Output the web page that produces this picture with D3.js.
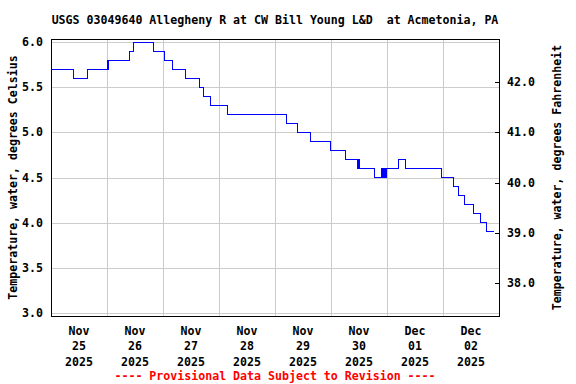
<!DOCTYPE html>
<html>
<head>
<meta charset="utf-8">
<script src="https://cdn.jsdelivr.net/npm/d3@7"></script>
<style>
  body { margin: 0; background: #fff; }
  text { font-family: "DejaVu Sans Mono", monospace; font-weight: bold; font-size: 11.6px; white-space: pre; }
</style>
</head>
<body>
<div id="chart"></div>
<script>
// Water temperature readings (change points, 15-min data), degrees Celsius
const obsTimes = [
  "2025-11-25 00:15", "2025-11-25 09:30", "2025-11-25 15:30", "2025-11-26 00:00",
  "2025-11-26 00:30", "2025-11-26 00:45", "2025-11-26 09:30", "2025-11-26 11:30",
  "2025-11-26 19:45", "2025-11-27 00:30", "2025-11-27 04:00", "2025-11-27 09:30",
  "2025-11-27 15:30", "2025-11-27 17:30", "2025-11-27 20:15", "2025-11-28 03:45",
  "2025-11-29 05:00", "2025-11-29 09:45", "2025-11-29 15:15", "2025-11-29 23:45",
  "2025-11-30 06:00", "2025-11-30 11:15", "2025-11-30 11:30", "2025-11-30 11:45",
  "2025-11-30 12:00", "2025-11-30 12:15", "2025-11-30 18:30", "2025-11-30 21:45",
  "2025-11-30 22:00", "2025-11-30 22:30", "2025-11-30 22:45", "2025-11-30 23:15",
  "2025-11-30 23:30", "2025-11-30 23:45", "2025-12-01 04:45", "2025-12-01 07:45",
  "2025-12-01 23:30", "2025-12-02 04:30", "2025-12-02 06:45", "2025-12-02 09:00",
  "2025-12-02 13:15", "2025-12-02 16:15", "2025-12-02 18:45", "2025-12-02 21:45"
];
const tempC = [
  5.7, 5.6, 5.7, 5.8,
  5.7, 5.8, 5.9, 6.0,
  5.9, 5.8, 5.7, 5.6,
  5.5, 5.4, 5.3, 5.2,
  5.1, 5.0, 4.9, 4.8,
  4.7, 4.6, 4.7, 4.6,
  4.7, 4.6, 4.5, 4.6,
  4.5, 4.6, 4.5, 4.6,
  4.5, 4.6, 4.7, 4.6,
  4.5, 4.4, 4.3, 4.2,
  4.1, 4.0, 3.9, 3.9
];

// Axis ticks and labels
const celsiusTicks = [3.0, 3.5, 4.0, 4.5, 5.0, 5.5, 6.0];
const fahrenheitTicks = [38, 39, 40, 41, 42];
const dayTicks = ["2025-11-25", "2025-11-26", "2025-11-27", "2025-11-28",
                  "2025-11-29", "2025-11-30", "2025-12-01", "2025-12-02"];

const title = "USGS 03049640 Allegheny R at CW Bill Young L&D  at Acmetonia, PA";
const leftTitle = "Temperature, water, degrees Celsius";
const rightTitle = "Temperature, water, degrees Fahrenheit";
const footer = "---- Provisional Data Subject to Revision ----";

const width = 576, height = 384;
const frame = { left: 51, right: 499, top: 39, bottom: 316 };

const parseTime = d3.timeParse("%Y-%m-%d %H:%M");
const parseDay = d3.timeParse("%Y-%m-%d");
const data = obsTimes.map((t, i) => ({ t: parseTime(t), v: tempC[i] }));

const x = d3.scaleTime()
    .domain([parseDay("2025-11-25"), parseDay("2025-12-03")])
    .range([frame.left, frame.right]);
const y = d3.scaleLinear().domain([3, 6]).range([313, 42]);
const yF = d3.scaleLinear().domain([3 * 1.8 + 32, 6 * 1.8 + 32]).range([313, 42]);

const svg = d3.select("#chart").append("svg")
    .attr("width", width).attr("height", height);

const px = v => Math.round(v) + 0.5;

// Gridlines
const grid = svg.append("g").attr("stroke", "#cccccc").attr("stroke-width", 1);
celsiusTicks.forEach(c => {
  grid.append("line").attr("x1", frame.left).attr("x2", frame.right)
      .attr("y1", px(y(c))).attr("y2", px(y(c)));
});
dayTicks.slice(1).forEach(d => {
  const xx = px(x(parseDay(d)));
  grid.append("line").attr("x1", xx).attr("x2", xx)
      .attr("y1", frame.top).attr("y2", frame.bottom);
});

// Data line
const line = d3.line()
    .x(d => x(d.t))
    .y(d => y(d.v))
    .curve(d3.curveStepAfter);
svg.append("path").datum(data)
    .attr("d", line)
    .attr("fill", "none")
    .attr("stroke", "#0000ff")
    .attr("stroke-width", 1)
    .attr("shape-rendering", "crispEdges");

// Frame
svg.append("rect")
    .attr("x", frame.left + 0.5).attr("y", frame.top + 0.5)
    .attr("width", frame.right - frame.left).attr("height", frame.bottom - frame.top)
    .attr("fill", "none").attr("stroke", "#000").attr("stroke-width", 1);

// Left tick labels
svg.append("g").selectAll("text").data(celsiusTicks).enter().append("text")
    .attr("x", 43).attr("y", d => y(d) + 4)
    .attr("text-anchor", "end")
    .text(d => d.toFixed(1));

// Right ticks (inward) and labels
svg.append("g").selectAll("line").data(fahrenheitTicks).enter().append("line")
    .attr("x1", frame.right - 4).attr("x2", frame.right)
    .attr("y1", d => px(yF(d))).attr("y2", d => px(yF(d)))
    .attr("stroke", "#000");
svg.append("g").selectAll("text").data(fahrenheitTicks).enter().append("text")
    .attr("x", 507).attr("y", d => yF(d) + 4)
    .text(d => d.toFixed(1));

// Day labels, centred on noon
const fmtMon = d3.timeFormat("%b"), fmtDay = d3.timeFormat("%d"), fmtYear = d3.timeFormat("%Y");
const dayLabels = svg.append("g").selectAll("text").data(dayTicks).enter().append("text")
    .attr("text-anchor", "middle");
dayLabels.each(function(d) {
  const day = parseDay(d);
  const cx = x(d3.timeHour.offset(day, 12));
  const t = d3.select(this);
  [fmtMon(day), fmtDay(day), fmtYear(day)].forEach((s, i) => {
    t.append("tspan").attr("x", cx).attr("y", 334.5 + i * 15.5).text(s);
  });
});

// Titles
const midX = (frame.left + frame.right) / 2;
const midY = (frame.top + frame.bottom) / 2;
svg.append("text").attr("x", midX).attr("y", 24).attr("text-anchor", "middle").text(title);
svg.append("text").attr("x", midX).attr("y", 380).attr("text-anchor", "middle")
    .attr("fill", "#ff0000").text(footer);
svg.append("text").attr("transform", `translate(17,${midY}) rotate(-90)`)
    .attr("text-anchor", "middle").text(leftTitle);
svg.append("text").attr("transform", `translate(561,${midY}) rotate(-90)`)
    .attr("text-anchor", "middle").text(rightTitle);
</script>
</body>
</html>
